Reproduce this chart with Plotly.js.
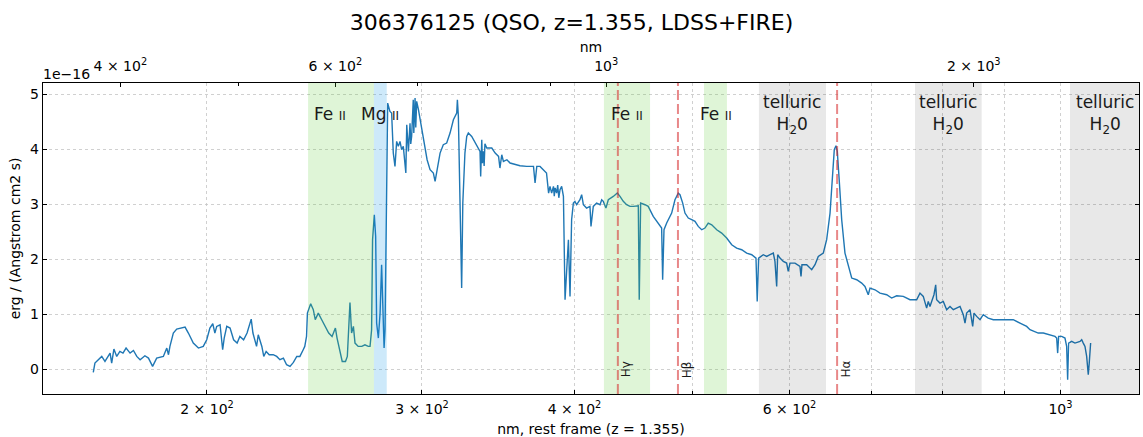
<!DOCTYPE html>
<html><head><meta charset="utf-8">
<script src="https://cdn.plot.ly/plotly-3.0.1.min.js"></script>
<style>html,body{margin:0;padding:0;background:#fff}</style>
</head><body><div id="chart" style="width:1143px;height:437px"></div>
<script>
const redshift = 1.355;
const restWavelength = [
161.4,161.9,164.0,165.0,166.6,167.1,167.8,168.7,169.7,170.7,171.7,173.0,174.1,175.2,176.3,177.9,179.1,180.5,181.9,184.2,
185.4,186.0,186.5,187.7,188.9,190.7,191.9,193.1,194.9,196.8,198.6,199.9,201.1,202.2,203.0,203.7,205.0,206.0,206.6,207.6,
208.9,210.3,211.7,212.8,214.3,215.7,217.4,218.1,219.6,220.3,221.8,222.6,223.6,224.9,226.6,228.1,229.5,231.0,232.4,233.9,
235.4,236.9,238.3,239.8,240.5,241.3,241.7,243.2,244.4,245.3,246.7,248.3,250.0,251.6,253.2,254.0,254.8,255.6,256.4,258.1,
259.7,260.6,261.9,262.7,263.6,264.4,266.0,267.8,269.4,271.1,272.0,272.8,273.3,274.2,274.9,275.4,276.3,277.2,278.0,278.6,
279.3,279.8,280.7,281.2,282.4,283.3,284.2,285.1,286.0,286.9,287.8,288.7,289.6,291.0,291.5,292.4,293.3,293.7,294.2,294.6,
295.1,295.4,295.7,296.1,296.5,297.0,298.0,298.9,300.9,302.9,304.6,306.5,307.5,308.4,309.4,310.4,312.3,314.3,316.3,318.3,
320.3,320.7,321.3,322.3,322.7,323.3,324.0,325.3,326.4,327.4,329.5,331.7,333.8,334.7,335.1,335.8,336.2,336.8,337.3,337.8,
339.0,342.2,344.4,346.6,347.5,348.7,349.8,352.1,354.2,357.7,360.9,365.5,369.0,370.2,371.3,372.5,374.8,377.2,379.4,380.9,
381.9,383.1,384.4,385.0,385.6,386.7,387.5,388.3,389.2,390.4,391.7,392.9,394.2,395.4,396.6,397.8,399.1,400.3,401.6,404.1,
405.4,406.7,409.2,411.8,412.6,414.4,417.0,419.7,421.0,422.3,424.4,426.3,430.3,433.6,435.8,438.5,441.3,444.1,446.9,449.7,
451.1,451.9,453.1,456.8,459.6,464.0,468.4,471.4,472.3,473.5,475.9,480.4,483.4,486.4,488.0,490.5,492.6,495.7,498.9,502.0,
505.1,508.4,511.5,514.7,518.1,523.0,527.9,532.9,538.0,543.0,548.2,553.4,558.7,563.2,564.5,566.0,571.0,574.7,578.3,581.9,
583.7,585.6,586.7,589.3,593.0,596.7,598.5,600.5,606.2,611.9,613.1,614.2,619.7,625.6,629.5,633.4,639.4,643.5,647.6,650.9,
652.8,654.9,656.5,658.9,662.0,666.1,670.2,674.6,681.0,687.4,691.7,696.0,698.3,704.9,711.6,720.6,727.4,734.3,743.5,753.0,
762.5,767.3,772.1,777.0,779.4,781.9,784.4,787.8,790.4,791.8,796.8,801.8,806.9,812.0,817.1,827.5,832.6,835.3,837.9,843.2,
847.5,849.6,853.9,859.3,864.6,872.7,881.1,892.3,903.6,914.9,926.6,938.3,944.2,950.1,959.0,968.2,980.5,989.8,992.9,994.8,
996.6,1002.4,1008.6,1011.8,1013.7,1015.6,1021.4,1027.8,1037.6,1040.9,1044.0,1047.4,1050.7,1053.9,1055.8,1058.6
];
const fluxE16 = [
-0.055,0.115,0.236,0.145,0.297,0.115,0.370,0.236,0.327,0.297,0.388,0.297,0.345,0.236,0.176,0.248,0.206,0.055,0.206,0.236,
0.388,0.267,0.418,0.661,0.733,0.752,0.770,0.661,0.479,0.388,0.418,0.539,0.752,0.830,0.661,0.782,0.812,0.358,0.570,0.782,
0.752,0.539,0.479,0.600,0.539,0.661,0.915,0.661,0.418,0.630,0.418,0.236,0.327,0.267,0.267,0.236,0.176,0.206,0.085,0.055,
0.127,0.236,0.236,0.358,0.418,0.600,1.024,1.194,1.085,0.903,1.024,0.903,0.782,0.661,0.600,0.661,0.752,0.570,0.418,0.145,
0.145,0.236,1.218,0.661,0.782,0.479,0.418,0.418,0.448,0.418,0.418,0.721,2.358,2.812,2.418,0.842,0.570,1.024,1.903,1.024,
0.388,0.721,2.842,4.842,4.691,4.661,3.933,3.691,4.145,4.055,4.145,3.994,4.055,3.570,4.448,3.964,4.473,4.100,4.236,4.750,
4.903,4.300,4.850,4.933,4.400,4.873,4.721,4.539,4.176,3.812,3.630,3.570,3.418,3.570,3.812,3.933,4.085,4.115,4.297,4.539,
4.661,4.903,4.600,3.024,1.964,1.479,3.024,3.933,4.236,4.297,4.236,4.115,3.994,3.964,3.509,4.176,3.750,3.964,3.700,4.100,
4.024,4.024,3.933,3.873,3.661,3.903,3.782,3.812,3.752,3.721,3.703,3.691,3.691,3.691,3.388,3.691,3.691,3.630,3.570,3.206,
3.327,3.206,3.327,3.150,3.300,3.206,3.350,3.120,3.267,3.327,3.145,1.267,1.994,2.358,1.327,2.721,3.024,3.055,2.994,3.085,
3.176,2.994,2.933,2.964,2.600,2.964,3.024,2.994,3.085,3.055,2.933,3.085,3.145,3.206,3.145,3.055,2.994,2.964,2.964,2.964,
2.976,1.267,3.024,2.994,2.964,2.782,2.661,2.570,1.630,2.539,2.661,2.842,3.085,3.206,3.176,3.024,2.842,2.752,2.721,2.691,
2.600,2.539,2.570,2.661,2.630,2.539,2.479,2.388,2.267,2.206,2.176,2.115,2.085,2.024,1.236,2.024,2.085,2.055,2.085,2.115,
1.964,1.509,2.085,2.024,1.964,1.933,1.782,1.933,1.933,1.873,1.691,1.903,1.903,1.812,1.903,2.055,2.115,2.358,2.842,3.509,
3.994,4.067,3.964,3.448,2.721,2.115,1.873,1.661,1.630,1.570,1.509,1.358,1.479,1.448,1.388,1.358,1.297,1.339,1.327,1.267,
1.267,1.388,1.327,1.115,1.236,1.145,1.236,1.358,1.539,1.267,1.206,1.236,1.085,1.145,1.085,1.145,0.994,0.842,1.024,1.085,
0.782,1.024,0.964,0.903,0.994,0.933,0.903,0.903,0.903,0.903,0.842,0.782,0.721,0.691,0.661,0.661,0.630,0.600,0.570,0.297,
0.600,0.600,0.570,0.418,-0.188,0.479,0.509,0.479,0.509,0.539,0.479,0.418,0.236,-0.097,0.115,0.479
];
const bandStart = [242.0, 274.0, 422.8, 510.6, 566.3, 760.1, 1018.2];
const bandEnd   = [274.0, 280.7, 461.2, 533.2, 642.7, 862.0, 1160.0];
const bandKind  = ['fe', 'mg', 'fe', 'fe', 'tel', 'tel', 'tel'];
const bandLabelAt = [252.2, 277.2, 441.6, 521.8, 603.3, 809.5, 1086.8];
const lineNames = ['Hγ', 'Hβ', 'Hα'];
const lineWavelength = [434.05, 486.13, 656.28];
const bottomTickVals = [200, 300, 400, 600, 1000];
const bottomTickText = ['2 × 10<sup>2</sup>', '3 × 10<sup>2</sup>', '4 × 10<sup>2</sup>', '6 × 10<sup>2</sup>', '10<sup>3</sup>'];
const bottomMinorVals = [500, 700, 800, 900];
const topTickVals = [400, 600, 1000, 2000];
const topTickText = ['4 × 10<sup>2</sup>', '6 × 10<sup>2</sup>', '10<sup>3</sup>', '2 × 10<sup>3</sup>'];
const topMinorVals = [500, 700, 800, 900];
const yTickVals = [0, 1, 2, 3, 4, 5];
const restRange = [146.8, 1159.7];
const fluxRange = [-0.447, 5.207];

const bandFill = {fe: 'rgba(95,205,55,0.2)', mg: 'rgba(5,145,230,0.2)', tel: 'rgba(0,0,0,0.09)'};
const bandText = {
  fe: 'Fe <span style="font-size:12px">II</span>',
  mg: 'Mg <span style="font-size:12px">II</span>',
  tel: 'telluric<br>H<sub>2</sub>0'
};

const traces = [
  {x: restWavelength, y: fluxE16, type: 'scatter', mode: 'lines',
   line: {color: '#1f77b4', width: 1.4}, hoverinfo: 'skip', showlegend: false},
  {x: restWavelength.map(w => w * (1 + redshift)), y: fluxE16, xaxis: 'x2', type: 'scatter',
   mode: 'lines', opacity: 0, line: {width: 0}, hoverinfo: 'skip', showlegend: false}
];

const shapes = [];
bandStart.forEach((s, i) => {
  shapes.push({type: 'rect', xref: 'x', yref: 'paper', x0: s, x1: bandEnd[i], y0: 0, y1: 1,
    fillcolor: bandFill[bandKind[i]], line: {width: 0}, layer: 'above'});
});
lineWavelength.forEach(w => {
  shapes.push({type: 'line', xref: 'x', yref: 'paper', x0: w, x1: w, y0: 0, y1: 1,
    line: {color: 'rgba(214,39,40,0.55)', width: 2, dash: '10px,4px'}, layer: 'above'});
});

const annotations = [];
bandLabelAt.forEach((w, i) => {
  annotations.push({x: Math.log10(w), y: 4.64, xref: 'x', yref: 'y', text: bandText[bandKind[i]],
    showarrow: false, xanchor: 'center', yanchor: 'middle', font: {size: 17, color: '#1a1a1a', family: 'DejaVu Sans'}});
});
lineNames.forEach((n, i) => {
  annotations.push({x: Math.log10(lineWavelength[i]), y: 0, xref: 'x', yref: 'y', text: n, textangle: -90,
    xshift: 9, showarrow: false, xanchor: 'center', yanchor: 'middle', font: {size: 12, color: '#1a1a1a', family: 'DejaVu Sans'}});
});
annotations.push({x: 0, y: 1, xref: 'paper', yref: 'paper', text: '1e\u221216', showarrow: false,
  xanchor: 'left', yanchor: 'bottom', yshift: -1, xshift: -2, font: {size: 14, color: '#000'}});

const gridStyle = {gridcolor: '#c4c4c4', griddash: 'dot', gridwidth: 0.8};

const layout = {
  width: 1143, height: 437,
  margin: {l: 43, r: 4, t: 83, b: 43, pad: 0},
  paper_bgcolor: '#fff', plot_bgcolor: '#fff',
  font: {family: 'DejaVu Sans', size: 14, color: '#000'},
  title: {text: '306376125 (QSO, z=1.355, LDSS+FIRE)', font: {size: 22, color: '#000'},
          x: 0.5, xref: 'container', y: 0.95, yref: 'container', yanchor: 'middle', xanchor: 'center'},
  xaxis: Object.assign({type: 'log', range: restRange.map(Math.log10), autorange: false,
    tickmode: 'array', tickvals: bottomTickVals, ticktext: bottomTickText, ticks: 'inside', ticklen: 4, tickcolor: '#000',
    ticklabelstandoff: 2,
    minor: Object.assign({tickmode: 'array', tickvals: bottomMinorVals, ticks: 'inside', ticklen: 3, tickcolor: '#000', showgrid: true}, gridStyle),
    showline: true, linecolor: '#000', linewidth: 1.2, mirror: false, zeroline: false,
    showgrid: true, automargin: false,
    title: {text: 'nm, rest frame (z = 1.355)', font: {size: 14}, standoff: 8}}, gridStyle),
  xaxis2: {type: 'log', overlaying: 'x', side: 'top', anchor: 'y',
    range: restRange.map(w => Math.log10(w * (1 + redshift))), autorange: false,
    tickmode: 'array', tickvals: topTickVals, ticktext: topTickText, ticks: 'inside', ticklen: 4, tickcolor: '#000',
    ticklabelstandoff: 5,
    minor: {tickmode: 'array', tickvals: topMinorVals, ticks: 'inside', ticklen: 3, tickcolor: '#000', showgrid: false},
    showline: true, linecolor: '#000', linewidth: 1.2, zeroline: false, showgrid: false, automargin: false,
    title: {text: 'nm', font: {size: 14}, standoff: 0}},
  yaxis: Object.assign({range: fluxRange, autorange: false, tickvals: yTickVals, ticks: 'inside', ticklen: 4, tickcolor: '#000',
    showline: true, linecolor: '#000', linewidth: 1.2, mirror: 'ticks', zeroline: false,
    showgrid: true, automargin: false,
    title: {text: 'erg / (Angstrom cm2 s)', font: {size: 14}, standoff: 6}}, gridStyle),
  shapes: shapes,
  annotations: annotations,
  showlegend: false,
  hovermode: false
};

Plotly.newPlot('chart', traces, layout, {displayModeBar: false, staticPlot: true});
</script>
</body></html>
